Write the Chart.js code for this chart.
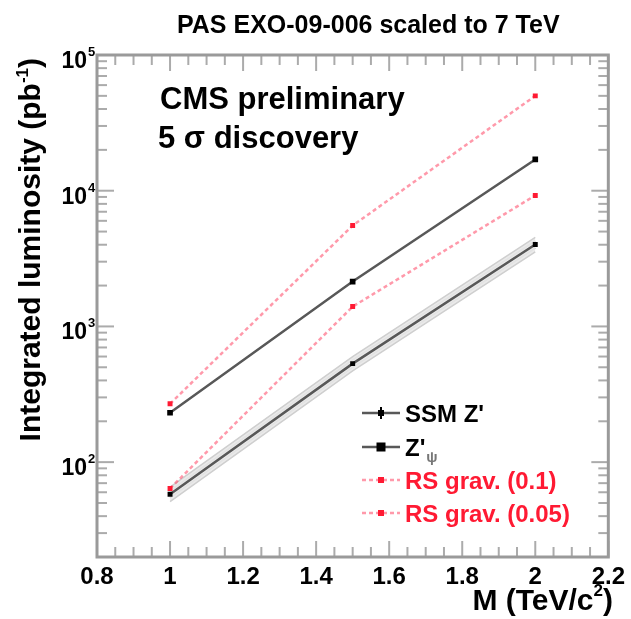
<!DOCTYPE html>
<html>
<head>
<meta charset="utf-8">
<script src="https://cdn.jsdelivr.net/npm/chart.js@4.4.1/dist/chart.umd.min.js"></script>
<style>
  html, body { margin: 0; padding: 0; background: #ffffff; }
  #wrap { width: 631px; height: 619px; }
</style>
</head>
<body>
<div id="wrap"><canvas id="c" width="631" height="619"></canvas></div>
<script>
// ---------------- data ----------------
const masses = [1.0, 1.5, 2.0];                 // M (TeV/c^2)
const ssmZ = [58, 532, 4010];                   // SSM Z'
const ssmBandHiOuter = [65.5, 600, 4530];       // SSM Z' uncertainty band (outer edges)
const ssmBandLoOuter = [51.2, 471, 3550];
const ssmBandHiInner = [61.5, 566, 4270];       // SSM Z' band (inner lines)
const ssmBandLoInner = [54.6, 500, 3770];
const zPsi = [231, 2140, 17000];                // Z'psi
const rsGrav01 = [269, 5540, 50000];            // RS graviton k/M = 0.1
const rsGrav005 = [64, 1400, 9230];             // RS graviton k/M = 0.05
const xTickValues = [0.8, 1.0, 1.2, 1.4, 1.6, 1.8, 2.0, 2.2];
const yDecades = [2, 3, 4, 5];                  // labelled powers of ten
const titleText = 'PAS EXO-09-006 scaled to 7 TeV';
const legendLabels = ["SSM Z'", "Z'", 'RS grav. (0.1)', 'RS grav. (0.05)'];

const X_MIN = 0.8, X_MAX = 2.2, Y_MIN = 20, Y_MAX = 100000;
const FONT = '"Liberation Sans", Arial, Helvetica, sans-serif';
const RED = '#ff1a33';
const RS_LINE = 'rgba(255,70,100,0.55)';
const DARK = '#585858';

const pts = arr => masses.map((m, i) => ({ x: m, y: arr[i] }));

function bandLine(arr, color, width, fill, bg) {
  return {
    data: pts(arr), borderColor: color, borderWidth: width, pointRadius: 0,
    fill: fill, backgroundColor: bg || 'transparent', tension: 0, order: 10
  };
}

const datasets = [
  bandLine(ssmBandLoOuter, '#cfcfcf', 1.5, false),
  bandLine(ssmBandHiOuter, '#cfcfcf', 1.5, '-1', 'rgba(232,232,232,0.9)'),
  bandLine(ssmBandLoInner, '#b4b4b4', 1.5, false),
  bandLine(ssmBandHiInner, '#b4b4b4', 1.5, false),
  { label: legendLabels[0], data: pts(ssmZ), borderColor: DARK, borderWidth: 2.5,
    pointStyle: 'rect', pointRadius: 3.5, pointBackgroundColor: '#000', pointBorderColor: '#000', pointBorderWidth: 0, order: 2 },
  { label: legendLabels[1], data: pts(zPsi), borderColor: DARK, borderWidth: 2.5,
    pointStyle: 'rect', pointRadius: 4, pointBackgroundColor: '#000', pointBorderColor: '#000', pointBorderWidth: 0, order: 2 },
  { label: legendLabels[2], data: pts(rsGrav01), borderColor: RS_LINE, borderWidth: 2.5, borderDash: [4, 3],
    pointStyle: 'rect', pointRadius: 3.5, pointBackgroundColor: RED, pointBorderColor: RED, pointBorderWidth: 0, order: 1 },
  { label: legendLabels[3], data: pts(rsGrav005), borderColor: RS_LINE, borderWidth: 2.5, borderDash: [4, 3],
    pointStyle: 'rect', pointRadius: 3.5, pointBackgroundColor: RED, pointBorderColor: RED, pointBorderWidth: 0, order: 1 }
];

function seg(ctx, x1, y1, x2, y2) { ctx.beginPath(); ctx.moveTo(x1, y1); ctx.lineTo(x2, y2); ctx.stroke(); }

const decor = {
  id: 'decor',
  afterDraw(chart) {
    const { ctx, chartArea: a, scales: { x, y } } = chart;
    ctx.save();
    // inward tick marks on all four sides
    ctx.strokeStyle = '#ababab';
    ctx.lineWidth = 2;
    const nMinor = Math.round((X_MAX - X_MIN) / 0.05);
    for (let i = 0; i <= nMinor; i++) {
      const v = X_MIN + i * 0.05;
      const px = x.getPixelForValue(v);
      const len = (i % 4 === 0) ? 16 : 10;
      seg(ctx, px, a.bottom, px, a.bottom - len);
      seg(ctx, px, a.top, px, a.top + len);
    }
    for (let e = 1; e <= 5; e++) {
      for (let m = 1; m <= 9; m++) {
        const v = m * Math.pow(10, e);
        if (v < Y_MIN || v > Y_MAX) continue;
        const py = y.getPixelForValue(v);
        const len = (m === 1) ? 17 : 10;
        seg(ctx, a.left, py, a.left + len, py);
        seg(ctx, a.right, py, a.right - len, py);
      }
    }
    // frame
    ctx.strokeStyle = '#9a9a9a';
    ctx.lineWidth = 3;
    ctx.strokeRect(a.left, a.top, a.right - a.left, a.bottom - a.top);

    // y tick labels 10^n
    ctx.fillStyle = '#000';
    ctx.textBaseline = 'alphabetic';
    yDecades.forEach(e => {
      const py = y.getPixelForValue(Math.pow(10, e));
      ctx.font = 'bold 23px ' + FONT;
      ctx.textAlign = 'right';
      ctx.fillText('10', a.left - 10, py + 13);
      ctx.font = 'bold 13px ' + FONT;
      ctx.textAlign = 'left';
      ctx.fillText(String(e), a.left - 9, py + 1);
    });

    // title
    ctx.font = 'bold 25px ' + FONT;
    ctx.textAlign = 'left';
    ctx.fillText(titleText, 177, 33);

    // CMS preliminary annotation
    ctx.font = 'bold 31px ' + FONT;
    ctx.fillText('CMS preliminary', 160, 109);
    ctx.fillText('5 \u03c3 discovery', 158, 148);

    // y axis title (rotated, right aligned to top)
    ctx.save();
    ctx.translate(40, 58);
    ctx.rotate(-Math.PI / 2);
    ctx.textAlign = 'left';
    const mainF = 'bold 30px ' + FONT, supF = 'bold 17px ' + FONT;
    ctx.font = mainF; const w1 = ctx.measureText('Integrated luminosity (pb').width;
    const w3 = ctx.measureText(')').width;
    ctx.font = supF; const w2 = ctx.measureText('-1').width;
    let sx = -(w1 + w2 + w3);
    ctx.font = mainF; ctx.fillText('Integrated luminosity (pb', sx, 0); sx += w1;
    ctx.font = supF; ctx.fillText('-1', sx, -12); sx += w2;
    ctx.font = mainF; ctx.fillText(')', sx, 0);
    ctx.restore();

    // x axis title (right aligned)
    ctx.font = 'bold 30px ' + FONT;
    const xa = 'M (TeV/c', xb = ')';
    const wa = ctx.measureText(xa).width, wb = ctx.measureText(xb).width;
    ctx.font = 'bold 17px ' + FONT;
    const ws = ctx.measureText('2').width;
    let tx = 613 - (wa + ws + wb);
    ctx.font = 'bold 30px ' + FONT; ctx.fillText(xa, tx, 610); tx += wa;
    ctx.font = 'bold 17px ' + FONT; ctx.fillText('2', tx, 596); tx += ws;
    ctx.font = 'bold 30px ' + FONT; ctx.fillText(xb, tx, 610);

    // legend
    const rows = [413, 447, 480, 513];
    const lx1 = 362, lx2 = 400, lm = 381, tx0 = 405;
    rows.forEach((ry, i) => {
      const isRS = i >= 2;
      ctx.lineWidth = 2.5;
      ctx.strokeStyle = isRS ? RS_LINE : DARK;
      ctx.setLineDash(isRS ? [4, 3] : []);
      seg(ctx, lx1, ry, lx2, ry);
      ctx.setLineDash([]);
      ctx.fillStyle = isRS ? RED : '#000';
      const s = (i === 1) ? 9 : 6;
      ctx.fillRect(lm - s / 2, ry - s / 2, s, s);
      if (i === 0) { ctx.fillRect(lm - 1, ry - 6, 2, 12); }
      ctx.fillStyle = isRS ? RED : '#000';
      ctx.font = 'bold 24px ' + FONT;
      ctx.textAlign = 'left';
      ctx.fillText(legendLabels[i], tx0, ry + 9);
      if (i === 1) {
        const w = ctx.measureText(legendLabels[i]).width;
        ctx.font = 'bold 15px ' + FONT;
        ctx.fillStyle = '#777';
        ctx.fillText('\u03c8', tx0 + w + 1, ry + 15);
      }
    });
    ctx.restore();
  }
};

new Chart(document.getElementById('c'), {
  type: 'line',
  data: { datasets },
  plugins: [decor],
  options: {
    responsive: false,
    animation: false,
    devicePixelRatio: 1,
    layout: { padding: { left: 0, right: 20, top: 55, bottom: 0 } },
    plugins: { legend: { display: false }, tooltip: { enabled: false }, title: { display: false } },
    elements: { line: { tension: 0 } },
    scales: {
      x: {
        type: 'linear', min: X_MIN, max: X_MAX,
        afterFit(s) { s.height = 62; },
        afterBuildTicks(s) { s.ticks = xTickValues.map(v => ({ value: v })); },
        grid: { display: false, drawTicks: false },
        border: { display: false },
        ticks: {
          padding: 6, color: '#000', maxRotation: 0, autoSkip: false,
          font: { family: FONT, size: 24, weight: 'bold' },
          callback: v => String(Number(v.toFixed(1)))
        }
      },
      y: {
        type: 'logarithmic', min: Y_MIN, max: Y_MAX,
        afterFit(s) { s.width = 97; },
        grid: { display: false, drawTicks: false },
        border: { display: false },
        ticks: { display: false }
      }
    }
  }
});
</script>
</body>
</html>
